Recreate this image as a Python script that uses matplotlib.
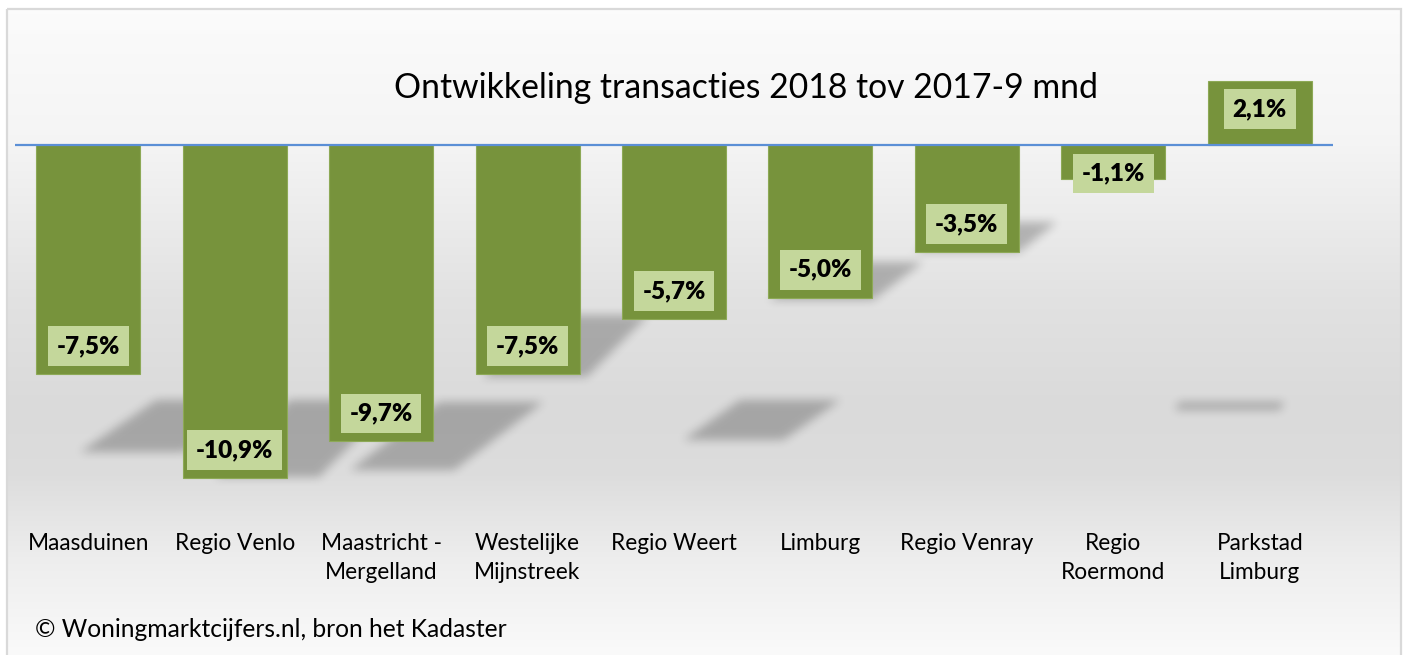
import numpy as np
import matplotlib
matplotlib.use('Agg')
import matplotlib.pyplot as plt
from matplotlib.path import Path
from matplotlib.patches import Rectangle
import matplotlib.transforms as mtransforms

plt.rcParams['font.family'] = ['Lato', 'DejaVu Sans']

# data
categories = ['Maasduinen', 'Regio Venlo', 'Maastricht -\nMergelland',
              'Westelijke\nMijnstreek', 'Regio Weert', 'Limburg',
              'Regio Venray', 'Regio\nRoermond', 'Parkstad\nLimburg']
values = [-7.5, -10.9, -9.7, -7.5, -5.7, -5.0, -3.5, -1.1, 2.1]
value_labels = ['%.1f%%' % v for v in values]
value_labels = [s.replace('.', ',') for s in value_labels]

title = 'Ontwikkeling transacties 2018 tov 2017-9 mnd'
credit = '\u00a9 Woningmarktcijfers.nl, bron het Kadaster'

# decorative perspective shadows (bottom-left x, bottom-right x, y bottom, y top, skew)
shadows = [
    (-0.056, 0.654, -10.05, -8.35, 0.52),
    (0.866, 1.576, -10.87, -8.35, 0.51),
    (1.788, 2.498, -10.64, -8.41, 0.61),
    (2.696, 3.406, -7.59, -5.56, 0.42),
    (4.062, 4.745, -9.66, -8.35, 0.39),
    (4.649, 5.359, -5.07, -3.83, 0.34),
    (5.646, 6.356, -3.50, -2.52, 0.26),
    (7.421, 8.138, -8.67, -8.41, 0.03),
]

W, H = 1407, 655
fig = plt.figure(figsize=(W / 100, H / 100), dpi=100)

# background gradient + frame
bg = fig.add_axes([0, 0, 1, 1], zorder=-10)
bg.set_xlim(0, W)
bg.set_ylim(H, 0)
bg.axis('off')
stops_y = [0, 0.2, 0.45, 0.62, 0.72, 0.85, 1.0]
stops_v = [0.985, 0.96, 0.885, 0.855, 0.865, 0.93, 0.98]
gy = np.linspace(0, 1, 300)
shade = np.interp(gy, stops_y, stops_v)
grad = np.repeat(shade[:, None], 2, axis=1)
bg.imshow(np.dstack([grad, grad, grad]), extent=(7, 1401, H, 9),
          aspect='auto', interpolation='bilinear')
bg.add_patch(Rectangle((7, 9), 1394, H, fill=False, ec='#D9D9D9', lw=1.6))

# main axes: zero at y=145px, 30.55 px per percent
left, right, top_px, bot_px = 15, 1333, 40, 500
ax = fig.add_axes([left / W, 1 - bot_px / H, (right - left) / W, (bot_px - top_px) / H])
ax.patch.set_alpha(0)
ppu = 30.55
ylim = (-(bot_px - 145) / ppu, (145 - top_px) / ppu)
xlim = (-0.5, len(values) - 0.5)
ax.set_xlim(*xlim)
ax.set_ylim(*ylim)
for s in ax.spines.values():
    s.set_visible(False)
ax.set_xticks([])
ax.set_yticks([])

# shadows as a blurred alpha image
gw, gh = right - left, bot_px - top_px
xs = xlim[0] + (np.arange(gw) + 0.5) / gw * (xlim[1] - xlim[0])
ys = ylim[1] - (np.arange(gh) + 0.5) / gh * (ylim[1] - ylim[0])
XX, YY = np.meshgrid(xs, ys)
pts = np.column_stack([XX.ravel(), YY.ravel()])
mask = np.zeros(XX.size)
for bl, br, yb, yt, sk in shadows:
    poly = Path([(bl, yb), (br, yb), (br + sk, yt), (bl + sk, yt), (bl, yb)])
    mask = np.maximum(mask, poly.contains_points(pts).astype(float))
mask = mask.reshape(gh, gw)


def box_blur(a, r, axis):
    pad = [(0, 0), (0, 0)]
    pad[axis] = (r + 1, r)
    c = np.cumsum(np.pad(a, pad, mode='edge'), axis=axis)
    n = a.shape[axis]
    hi = np.take(c, np.arange(2 * r + 1, 2 * r + 1 + n), axis=axis)
    lo = np.take(c, np.arange(0, n), axis=axis)
    return (hi - lo) / (2 * r + 1)


for _ in range(3):
    mask = box_blur(mask, 4, 1)
    mask = box_blur(mask, 4, 0)
shadow_img = np.zeros((gh, gw, 4))
shadow_img[..., 3] = mask * 0.24
ax.imshow(shadow_img, extent=(xlim[0], xlim[1], ylim[0], ylim[1]),
          aspect='auto', zorder=1, interpolation='bilinear')
ax.set_xlim(*xlim)
ax.set_ylim(*ylim)

x = np.arange(len(values))
ax.bar(x, values, width=0.71, color='#77933C', edgecolor='#8DA956',
       linewidth=0.8, zorder=2)
ax.axhline(0, color='#5B8FD6', lw=1.6, zorder=3)

# value labels (inside end)
half_box = 20.5 / ppu
gap = 7.5 / ppu
for xi, v, lab in zip(x, values, value_labels):
    if v < 0:
        yc = min(v + gap + half_box, -(8 / ppu + half_box))
    else:
        yc = max(v - gap - half_box, 8 / ppu + half_box)
    ax.text(xi, yc, lab, ha='center', va='center', fontsize=17.5,
            fontweight='heavy', color='black', zorder=4,
            bbox=dict(boxstyle='square,pad=0.36', fc='#C4D79B', ec='none'))

# category labels
tr = mtransforms.blended_transform_factory(ax.transData, fig.transFigure)
for xi, cat in zip(x, categories):
    for k, line in enumerate(cat.split('\n')):
        ax.text(xi, 1 - (550 + 29 * k) / H, line, transform=tr, ha='center',
                va='baseline', fontsize=16.3, color='black')

fig.text(746 / W, 1 - 98 / H, title, ha='center', va='baseline',
         fontsize=24.3, color='black')
fig.text(35 / W, 1 - 637 / H, credit, ha='left', va='baseline',
         fontsize=17.7, color='black')

fig.savefig('out.png', dpi=100)
